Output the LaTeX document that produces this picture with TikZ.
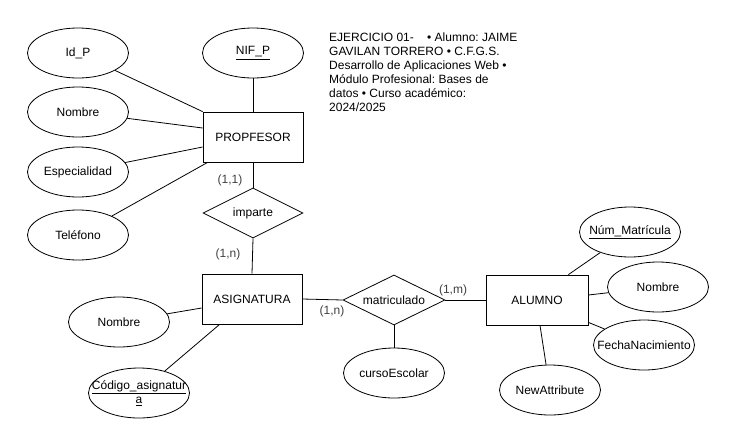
\documentclass[tikz,border=0pt]{standalone}
\usepackage{fontspec}
\setmainfont{Liberation Sans}
\usetikzlibrary{shapes.geometric,calc}
\frenchspacing
\begin{document}
\begin{tikzpicture}[x=1pt,y=-1pt,
  font=\fontsize{12}{14}\selectfont,
  ln/.style={draw=black,line width=0.8pt},
  ent/.style={rectangle,draw,line width=0.8pt,minimum width=100pt,minimum height=50pt,inner sep=0pt},
  attr/.style={ellipse,draw,line width=0.8pt,minimum width=101pt,minimum height=50pt,inner sep=0pt,
    label={[align=center,font=\fontsize{12}{14}\selectfont]center:#1}},
  rel/.style={diamond,draw,line width=0.8pt,minimum width=100pt,minimum height=50pt,inner sep=0pt,aspect=2},
  card/.style={text=black!75,inner sep=0pt}
]
\useasboundingbox (0,0) rectangle (734,445);
% title
\node[anchor=north west,align=left,inner sep=0pt] (title) at (329,33)
  {EJERCICIO 01-\ \ \ \ • Alumno: JAIME\\GAVILAN TORRERO • C.F.G.S.\\Desarrollo de Aplicaciones Web •\\Módulo Profesional: Bases de\\datos • Curso académico:\\2024/2025};
% entities
\node[ent] (prop) at (253,137) {PROPFESOR};
\node[ent] (asig) at (252,299) {ASIGNATURA};
\node[ent,minimum width=102pt] (alum) at (537,300) {ALUMNO};
% relations
\node[rel] (imp) at (253,213) {imparte};
\node[rel,minimum width=102pt] (mat) at (394,300) {matriculado};
% attributes
\node[attr={Id\_P}] (idp) at (78,53) {};
\node[attr={Nombre}] (nomp) at (78,112) {};
\node[attr={Especialidad}] (esp) at (78,172) {};
\node[attr={Teléfono}] (tel) at (78,235) {};
\node[attr={\underline{NIF\_P}}] (nif) at (253,53) {};
\node[attr={Nombre}] (noma) at (119,322) {};
\node[attr={\underline{Código\_asignatur}\\\underline{a}}] (cod) at (139,393) {};
\node[attr={cursoEscolar}] (curso) at (394,373) {};
\node[attr={\underline{Núm\_Matrícula}}] (num) at (630,232) {};
\node[attr={Nombre}] (nomal) at (658,287) {};
\node[attr={FechaNacimiento}] (fecha) at (644,345) {};
\node[attr={NewAttribute}] (newat) at (550,390) {};
% cardinalities
\node[card] (c1) at (230,180) {(1,1)};
\node[card] (c2) at (228,254) {(1,n)};
\node[card] (c3) at (332,311) {(1,n)};
\node[card] (c4) at (453,290) {(1,m)};
% connectors
\draw[ln] (idp) -- (prop.north west);
\draw[ln] (nomp) -- ($(prop.west)+(0,-9)$);
\draw[ln] (esp) -- ($(prop.west)+(0,10)$);
\draw[ln] (tel) -- ($(prop.south west)+(5,0)$);
\draw[ln] (nif) -- (prop);
\draw[ln] (prop) -- (imp);
\draw[ln] (imp.south) -- (asig.north);
\draw[ln] (asig.east) -- (mat.west);
\draw[ln] (mat.east) -- (alum.west);
\draw[ln] (mat.south) -- (curso.north);
\draw[ln] (noma) -- ($(asig.west)+(0,9)$);
\draw[ln] (cod) -- ($(asig.south west)+(18,0)$);
\draw[ln] (num) -- ($(alum.north east)+(-20,0)$);
\draw[ln] (nomal) -- ($(alum.east)+(0,-5)$);
\draw[ln] (fecha) -- ($(alum.south east)+(0,-3)$);
\draw[ln] (newat) -- ($(alum.south)+(3,0)$);
\end{tikzpicture}
\end{document}
